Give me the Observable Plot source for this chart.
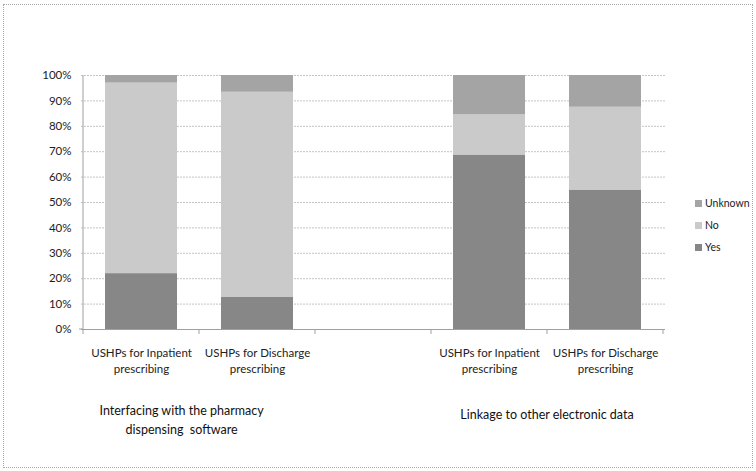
<!DOCTYPE html>
<html>
<head>
<meta charset="utf-8">
<script src="https://cdn.jsdelivr.net/npm/d3@7"></script>
<script src="https://cdn.jsdelivr.net/npm/@observablehq/plot@0.6"></script>
<style>
  html, body { margin: 0; padding: 0; background: #fff; }
  #wrap { position: relative; width: 756px; height: 471px; font-family: Lato, sans-serif; }
  #frame { position: absolute; left: 3px; top: 4px; width: 750px; height: 464px; border: 1px dotted #a8a8a8; box-sizing: border-box; pointer-events: none; }
  .grp { position: absolute; font-size: 12.5px; color: #111; text-align: center; line-height: 19px; white-space: pre; transform: translateX(-50%); }
  #legend { position: absolute; left: 695px; top: 192px; font-size: 10.5px; color: #222; }
  #legend div { display: flex; align-items: center; height: 22px; }
  #legend span.sw { width: 7px; height: 7px; margin-right: 3px; display: inline-block; }
</style>
</head>
<body>
<div id="wrap"></div>
<script>
const barKeys = ["i1", "i2", "gap", "l1", "l2"];
const barLabels = ["USHPs for Inpatient\nprescribing", "USHPs for Discharge\nprescribing", "", "USHPs for Inpatient\nprescribing", "USHPs for Discharge\nprescribing"];
const series = ["Yes", "No", "Unknown"];
const yesValues = [22, 12.6, null, 68.7, 54.9];
const noValues = [75, 80.8, null, 15.8, 32.6];
const unknownValues = [3, 6.6, null, 15.5, 12.5];
const groupLabels = ["Interfacing with the pharmacy\ndispensing  software", "Linkage to other electronic data"];
const yTicks = [0, 10, 20, 30, 40, 50, 60, 70, 80, 90, 100];
const colors = ["#878787", "#cacaca", "#a4a4a4"];

const rows = [];
barKeys.forEach((k, i) => {
  const vals = [yesValues[i], noValues[i], unknownValues[i]];
  series.forEach((s, j) => {
    if (vals[j] != null) rows.push({key: k, series: s, value: vals[j]});
  });
});

const W = 756, H = 471;
const inset = 22;
const chart = Plot.plot({
  width: W,
  height: H,
  marginLeft: 81,
  marginRight: 91,
  marginTop: 75,
  marginBottom: 142,
  style: {fontFamily: "Lato, sans-serif", fontSize: "11.5px", color: "#222", background: "transparent"},
  x: {domain: barKeys, padding: 0, label: null},
  y: {domain: [0, 100], ticks: yTicks, tickFormat: d => d + "%", label: null},
  color: {domain: series, range: colors},
  marks: [
    Plot.gridY(yTicks, {stroke: "#c4c4c4", strokeOpacity: 1, strokeDasharray: "2,1"}),
    Plot.barY(rows, {x: "key", y: "value", fill: "series", order: series, insetLeft: inset, insetRight: inset}),
    Plot.ruleY([0], {stroke: "#a0a0a0"}),
    Plot.axisY({ticks: yTicks, tickFormat: d => d + "%", tickSize: 0, tickPadding: 10, label: null}),
    Plot.axisX({tickSize: 0, tickPadding: 16, lineHeight: 1.38, label: null, tickFormat: d => barLabels[barKeys.indexOf(d)]})
  ]
});
const wrap = document.getElementById("wrap");
wrap.appendChild(chart);

// y axis line and category boundary ticks, drawn with the plot's scales
const xs = chart.scale("x");
const ys = chart.scale("y");
const svg = d3.select(chart);
const bw = xs.step;
const x0 = xs.apply(barKeys[0]);
const boundaries = d3.range(barKeys.length + 1).map(i => x0 + i * bw);
svg.append("line").attr("x1", x0).attr("x2", x0).attr("y1", ys.apply(100)).attr("y2", ys.apply(0)).attr("stroke", "#a0a0a0");
svg.append("line").attr("x1", x0 - 4).attr("x2", x0).attr("y1", ys.apply(0)).attr("y2", ys.apply(0)).attr("stroke", "#a0a0a0");
boundaries.forEach(b => {
  svg.append("line").attr("x1", b).attr("x2", b).attr("y1", ys.apply(0)).attr("y2", ys.apply(0) + 5).attr("stroke", "#a0a0a0");
});

// group labels
const gx = [x0 + bw * 0.85, x0 + bw * 4.0];
const gy = [401, 405];
groupLabels.forEach((g, i) => {
  const d = document.createElement("div");
  d.className = "grp";
  d.textContent = g;
  d.style.left = gx[i] + "px";
  d.style.top = gy[i] + "px";
  wrap.appendChild(d);
});

// legend
const leg = document.createElement("div");
leg.id = "legend";
series.slice().reverse().forEach(s => {
  const r = document.createElement("div");
  const sw = document.createElement("span");
  sw.className = "sw";
  sw.style.background = colors[series.indexOf(s)];
  r.appendChild(sw);
  r.appendChild(document.createTextNode(s));
  leg.appendChild(r);
});
wrap.appendChild(leg);

const fr = document.createElement("div");
fr.id = "frame";
wrap.appendChild(fr);
</script>
</body>
</html>
